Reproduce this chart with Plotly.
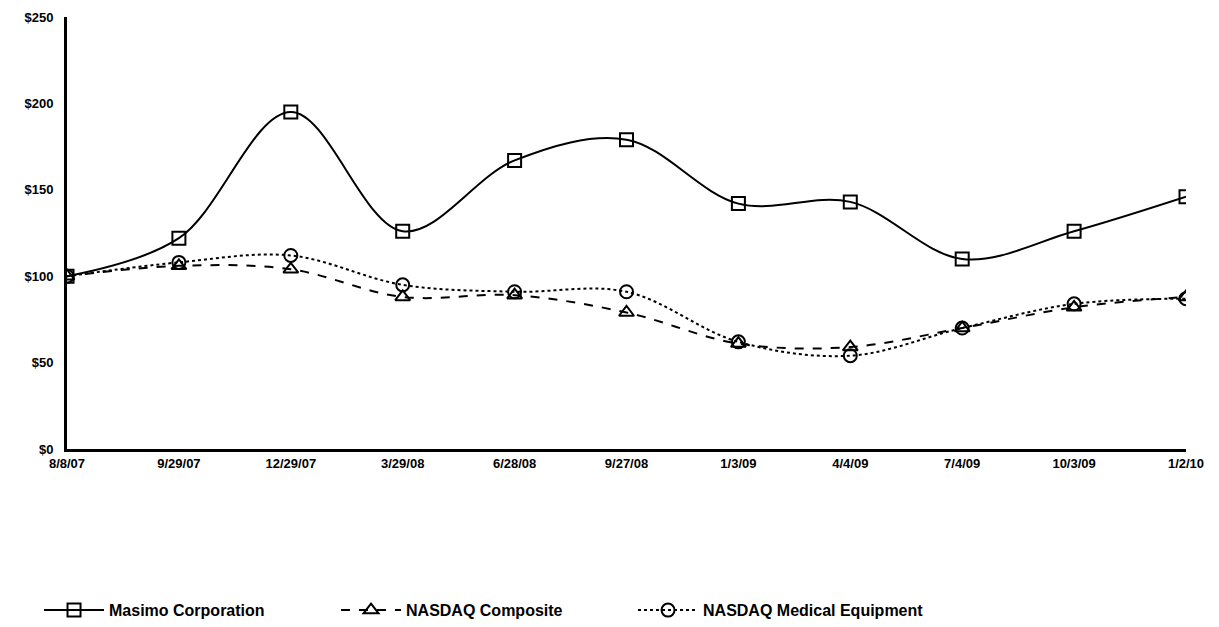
import plotly.graph_objects as go

dates = ["8/8/07", "9/29/07", "12/29/07", "3/29/08", "6/28/08", "9/27/08",
         "1/3/09", "4/4/09", "7/4/09", "10/3/09", "1/2/10"]
masimo = [100, 122, 195, 126, 167, 179, 142, 143, 110, 126, 146]
nasdaq_composite = [100, 106, 104, 88, 89, 79, 61, 59, 70, 82, 88]
nasdaq_medical = [100, 108, 112, 95, 91, 91, 62, 54, 70, 84, 87]

series = [
    ("Masimo Corporation", masimo, "solid", "square-open"),
    ("NASDAQ Composite", nasdaq_composite, "dash", "triangle-up-open"),
    ("NASDAQ Medical Equipment", nasdaq_medical, "dot", "circle-open"),
]

fig = go.Figure()
for name, vals, dash, sym in series:
    fig.add_trace(go.Scatter(
        x=dates, y=vals, name=name, mode="lines+markers",
        line=dict(color="black", width=2, dash=dash, shape="spline", smoothing=1),
        marker=dict(symbol=sym, size=13, color="black", line=dict(width=2, color="black")),
    ))

fig.update_layout(
    width=1219, height=627,
    margin=dict(l=59, r=41, t=9, b=185),
    paper_bgcolor="white", plot_bgcolor="white",
    font=dict(family="Liberation Sans Narrow, Liberation Sans, Arial", size=12, color="black"),
    showlegend=True,
    legend=dict(orientation="h", x=-0.025, y=-0.37, xanchor="left", yanchor="middle",
                font=dict(size=16, family="Liberation Sans Narrow, Liberation Sans, Arial", weight="bold"),
                itemwidth=60, entrywidth=222, entrywidthmode="pixels"),
)
fig.update_xaxes(type="category", range=[0, 10], showline=True, linecolor="black", linewidth=3,
                 showgrid=False, ticks="", tickfont=dict(size=13, weight="bold"), zeroline=False,
                 automargin=False)
fig.update_yaxes(range=[0, 250], dtick=50, tickprefix="$", showline=True, linecolor="black",
                 linewidth=3, showgrid=False, ticks="", tickfont=dict(size=13, weight="bold"),
                 zeroline=False, automargin=False, ticklabelstandoff=8)

fig.write_html("out.html")
